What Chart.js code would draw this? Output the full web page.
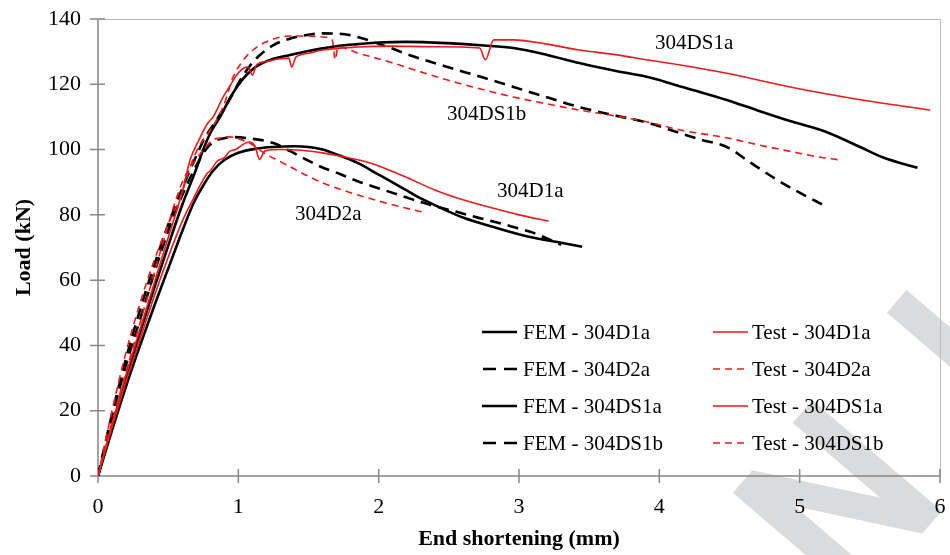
<!DOCTYPE html>
<html><head><meta charset="utf-8">
<script src="https://cdn.jsdelivr.net/npm/chart.js@4.4.1/dist/chart.umd.min.js"></script>
<style>html,body{margin:0;padding:0;background:#fff;}canvas{display:block;}</style>
</head><body>
<canvas id="c" width="950" height="555" style="width:950px;height:555px"></canvas>
<script>
// ---- data ----
const xTicks = [0, 1, 2, 3, 4, 5, 6];
const yTicks = [0, 20, 40, 60, 80, 100, 120, 140];
const xTitle = 'End shortening (mm)';
const yTitle = 'Load (kN)';
const seriesLabels = ['FEM - 304D1a', 'FEM - 304D2a', 'FEM - 304DS1a', 'FEM - 304DS1b',
                      'Test - 304D1a', 'Test - 304D2a', 'Test - 304DS1a', 'Test - 304DS1b'];

const femD1a = [[0,0],[0.1,14],[0.2,27.5],[0.3,40],[0.4,52],[0.5,63.5],[0.6,75],[0.68,83.5],[0.75,89],[0.82,93.5],[0.9,96.8],[1.0,99],[1.13,100.3],[1.25,100.8],[1.4,101],[1.5,100.8],[1.6,100],[1.72,98.2],[1.85,95.9],[2.0,92.3],[2.13,89.2],[2.25,86.2],[2.37,83.6],[2.5,81],[2.6,79.2],[2.84,76],[3.08,73.2],[3.31,71.4],[3.45,70.2]];
const femD2a = [[0,0],[0.1,18],[0.2,34],[0.3,48],[0.4,62],[0.5,75],[0.6,86],[0.7,95],[0.76,99.5],[0.82,102.3],[0.9,103.5],[0.97,103.8],[1.1,103.3],[1.25,102],[1.37,99.5],[1.49,96.8],[1.6,94.5],[1.72,92.6],[1.85,90.3],[2.01,88],[2.2,85.3],[2.37,83],[2.55,81],[2.72,79],[2.9,77],[3.08,74.8],[3.2,72.8],[3.3,70.8]];
const femDS1a = [[0,0],[0.1,15],[0.2,30],[0.3,44],[0.4,57.5],[0.5,70.5],[0.6,83],[0.7,94],[0.75,100],[0.8,105],[0.87,110],[0.95,116.5],[1.03,121.5],[1.1,124.5],[1.15,126],[1.25,127.8],[1.37,129],[1.5,130.2],[1.6,131],[1.72,131.8],[1.85,132.3],[2.0,132.8],[2.2,133],[2.49,132.6],[2.75,131.9],[2.96,131.1],[3.2,129],[3.43,126.5],[3.7,124],[3.91,122.3],[4.0,121.3],[4.15,119.3],[4.3,117.5],[4.48,115.2],[4.7,112],[4.95,108.5],[5.19,105.4],[5.43,100.8],[5.6,97.5],[5.84,94.4]];
const femDS1b = [[0,0],[0.1,19],[0.2,36],[0.3,51],[0.4,64.5],[0.5,77],[0.6,88],[0.7,98],[0.76,103.5],[0.82,107.5],[0.94,115.5],[1.01,121],[1.08,125.5],[1.15,128.8],[1.25,132],[1.37,134],[1.49,135.1],[1.6,135.6],[1.72,135.5],[1.85,134.5],[1.96,133],[2.08,131.2],[2.25,128.5],[2.49,125.3],[2.75,122],[2.96,119.2],[3.2,116],[3.43,113],[3.7,110.3],[3.91,108.3],[4.15,105],[4.3,103],[4.48,100.8],[4.65,96],[4.84,90.7],[5.0,86.8],[5.17,83]];
const testD1a = [[0,0],[0.1,15],[0.2,29],[0.3,42],[0.4,55],[0.5,67],[0.6,78],[0.68,85],[0.74,90],[0.78,92.8],[0.8,93.5],[0.85,96.5],[0.9,97.5],[0.94,99.5],[0.98,100],[1.03,101.5],[1.08,102.3],[1.12,101],[1.15,97],[1.19,99.6],[1.3,100],[1.45,99.8],[1.6,99],[1.75,97.8],[1.94,95.9],[2.1,93.3],[2.24,90.7],[2.4,87.6],[2.6,84.6],[2.84,81.8],[3.0,80],[3.21,78.1]];
const testD2a = [[0,0],[0.1,16.5],[0.2,32],[0.3,47],[0.4,62],[0.5,77],[0.55,84],[0.6,90],[0.65,94],[0.7,97],[0.76,100.5],[0.82,103],[0.87,103.5],[0.94,103.9],[1.0,103.3],[1.08,102],[1.2,98.5],[1.3,96.3],[1.37,94.7],[1.5,91.8],[1.6,89.8],[1.8,86.8],[2.08,83.3],[2.2,82],[2.31,80.9]];
const testDS1a = [[0,0],[0.1,16],[0.2,31],[0.3,45],[0.4,59],[0.5,73],[0.6,87],[0.656,96.8],[0.72,103],[0.78,108],[0.82,110],[0.89,116],[0.94,119.5],[0.99,123],[1.04,125],[1.07,125.3],[1.1,122.8],[1.13,126],[1.2,127],[1.3,127.8],[1.36,128],[1.38,125.3],[1.41,128.3],[1.5,129.5],[1.6,130.5],[1.85,131.4],[2.08,131.7],[2.4,131.5],[2.72,131.1],[2.76,127.5],[2.82,133.6],[2.96,133.6],[3.2,132.3],[3.43,130.5],[3.7,129],[3.91,127.5],[4.15,125.9],[4.5,123.2],[4.95,119],[5.4,115.5],[5.93,112.1]];
const testDS1b = [[0,0],[0.1,20],[0.2,38],[0.3,53],[0.4,66],[0.5,77],[0.6,87],[0.656,94.7],[0.72,101],[0.8,106],[0.85,109.5],[0.9,114],[0.96,122],[1.02,126.5],[1.08,129.6],[1.2,133],[1.37,134.8],[1.5,134.8],[1.6,134.5],[1.67,133.5],[1.69,127.5],[1.71,131.5],[1.85,129.6],[2.08,126.8],[2.3,123.8],[2.49,121.3],[2.75,118.3],[2.96,116.1],[3.2,114],[3.43,112.1],[3.7,110.2],[3.91,108.5],[4.15,106],[4.48,103.6],[4.7,101.5],[4.95,99.3],[5.1,98],[5.29,96.8]];

// curve name labels and their anchor in data units
const noteTexts = ['304DS1a', '304DS1b', '304D1a', '304D2a'];
const noteX = [3.97, 2.487, 2.843, 1.404];
const noteY = [132.4, 110.6, 87.3, 80.0];

// ---- styles ----
const SERIF = '"Liberation Serif", "Times New Roman", serif';
const RED = '#f01818';
const AXIS = '#878787';
const seriesData = [femD1a, femD2a, femDS1a, femDS1b, testD1a, testD2a, testDS1a, testDS1b];
const styles = [
  {c:'#000', w:2.6, d:[]}, {c:'#000', w:2.6, d:[11,7]}, {c:'#000', w:2.6, d:[]}, {c:'#000', w:2.6, d:[11,7]},
  {c:RED, w:1.6, d:[]}, {c:RED, w:1.6, d:[7,5]}, {c:RED, w:1.6, d:[]}, {c:RED, w:1.6, d:[7,5]}
];

const datasets = seriesData.map((arr, i) => ({
  label: seriesLabels[i],
  data: arr.map(p => ({x: p[0], y: p[1]})),
  borderColor: styles[i].c,
  borderWidth: styles[i].w,
  borderDash: styles[i].d,
  pointRadius: 0,
  fill: false,
  cubicInterpolationMode: 'monotone',
  order: i < 4 ? 1 : 0
}));

const bgPlugin = {
  id: 'bg',
  beforeDraw(chart) {
    const ctx = chart.ctx;
    ctx.save();
    ctx.fillStyle = '#fff';
    ctx.fillRect(0, 0, chart.width, chart.height);
    // watermark
    ctx.translate(733, 493);
    ctx.rotate(-49.5 * Math.PI / 180);
    ctx.fillStyle = '#dadbdc';
    ctx.fillRect(0, 0, 30, 260);
    ctx.fillRect(92, 0, 30, 170);
    ctx.beginPath();
    ctx.moveTo(0, 0); ctx.lineTo(30, 0); ctx.lineTo(122, 170); ctx.lineTo(92, 170); ctx.closePath();
    ctx.fill();
    ctx.fillRect(237, 0, 30, 220);
    ctx.restore();
  }
};

const framePlugin = {
  id: 'frame',
  beforeDatasetsDraw(chart) {
    const {ctx, chartArea: a, scales: {x, y}} = chart;
    ctx.save();
    ctx.strokeStyle = '#bdbdbd';
    ctx.lineWidth = 1;
    ctx.beginPath();
    ctx.moveTo(a.left, a.top + 0.5); ctx.lineTo(a.right + 0.5, a.top + 0.5); ctx.lineTo(a.right + 0.5, a.bottom);
    ctx.stroke();
    ctx.strokeStyle = AXIS;
    ctx.lineWidth = 1.5;
    ctx.beginPath();
    ctx.moveTo(a.left, a.top); ctx.lineTo(a.left, a.bottom); ctx.lineTo(a.right + 1, a.bottom);
    xTicks.forEach(v => { const px = x.getPixelForValue(v); ctx.moveTo(px, a.bottom - 7); ctx.lineTo(px, a.bottom + 7); });
    yTicks.forEach(v => { const py = y.getPixelForValue(v); ctx.moveTo(a.left - 8, py); ctx.lineTo(a.left + 7, py); });
    ctx.stroke();
    ctx.restore();
  },
  afterDraw(chart) {
    const {ctx, scales: {x, y}} = chart;
    ctx.save();
    ctx.font = '21px ' + SERIF;
    ctx.fillStyle = '#000';
    ctx.textBaseline = 'middle';
    ctx.textAlign = 'left';
    // curve labels
    noteTexts.forEach((t, i) => ctx.fillText(t, x.getPixelForValue(noteX[i]), y.getPixelForValue(noteY[i])));
    // legend
    const colLine = [482, 713], colText = [523, 752], rows = [332, 369, 406, 443];
    chart.data.datasets.forEach((ds, i) => {
      const col = i < 4 ? 0 : 1, ry = rows[i % 4];
      const dashed = ds.borderDash.length > 0;
      const sampleDash = dashed ? (i < 4 ? [13, 8] : [7, 5]) : [];
      const len = dashed ? (i < 4 ? 34 : 31) : 35;
      const startX = colLine[col] + (dashed && i < 4 ? 1 : 0);
      ctx.beginPath();
      ctx.strokeStyle = ds.borderColor;
      ctx.lineWidth = ds.borderWidth;
      ctx.setLineDash(sampleDash);
      ctx.moveTo(startX, ry); ctx.lineTo(startX + len, ry);
      ctx.stroke();
      ctx.setLineDash([]);
      ctx.fillText(ds.label, colText[col], ry + 1);
    });
    ctx.restore();
  }
};

new Chart(document.getElementById('c'), {
  type: 'line',
  data: {datasets},
  plugins: [bgPlugin, framePlugin],
  options: {
    responsive: false, animation: false, devicePixelRatio: 1,
    layout: {padding: {top: 19, right: 10, left: 0, bottom: 0}},
    plugins: {legend: {display: false}, tooltip: {enabled: false}},
    scales: {
      x: {
        type: 'linear', min: 0, max: 6,
        afterBuildTicks: s => { s.ticks = xTicks.map(v => ({value: v})); },
        afterFit: s => { s.height = 79; s.paddingLeft = 0; s.paddingRight = 0; },
        ticks: {font: {family: SERIF, size: 22}, color: '#000', padding: 18, maxRotation: 0, autoSkip: false},
        grid: {display: false, drawTicks: false}, border: {display: false},
        title: {display: true, text: xTitle, color: '#000', font: {family: SERIF, size: 22, weight: 'bold'}, padding: {top: 0, bottom: 2}}
      },
      y: {
        type: 'linear', min: 0, max: 140,
        afterBuildTicks: s => { s.ticks = yTicks.map(v => ({value: v})); },
        afterFit: s => { s.width = 98; s.paddingTop = 0; s.paddingBottom = 0; },
        ticks: {font: {family: SERIF, size: 22}, color: '#000', padding: 17, autoSkip: false},
        grid: {display: false, drawTicks: false}, border: {display: false},
        title: {display: true, text: yTitle, color: '#000', font: {family: SERIF, size: 22, weight: 'bold'}, padding: {top: 11, bottom: 0}}
      }
    }
  }
});
</script>
</body></html>
